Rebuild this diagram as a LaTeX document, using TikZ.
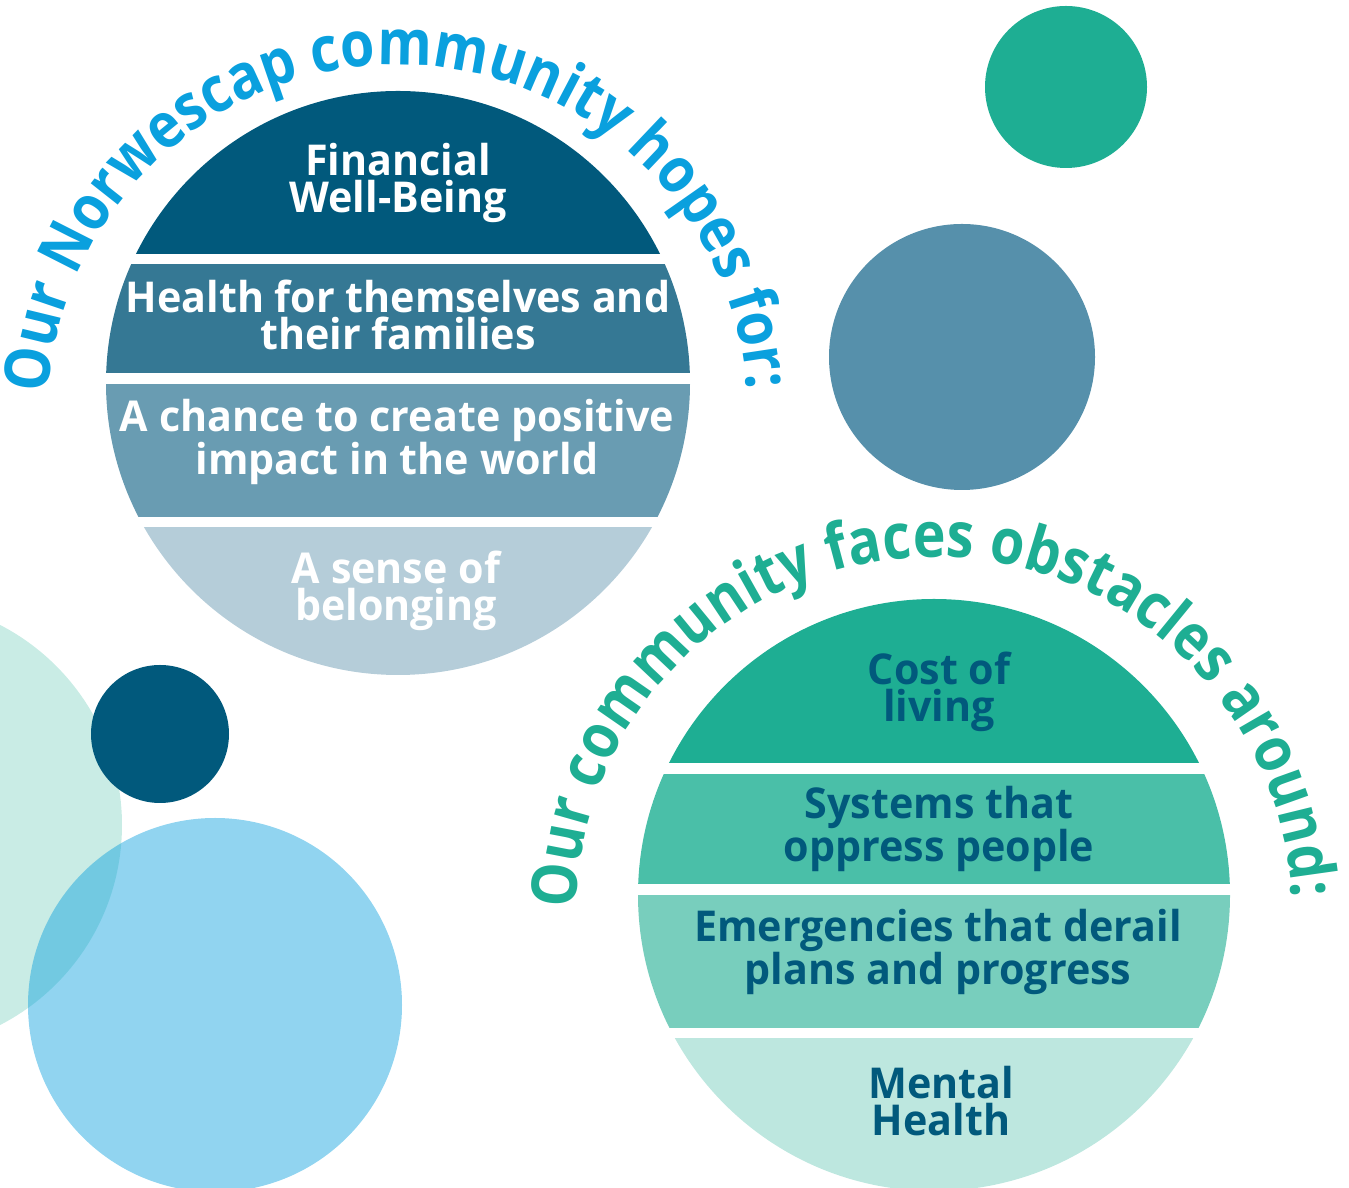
\documentclass[tikz,border=0pt]{standalone}
\usepackage{fontspec}
\setmainfont{Open Sans}[FakeStretch=0.97]
\newfontfamily\headfont{Open Sans}[FakeStretch=0.88]
\usetikzlibrary{decorations.text}
\definecolor{hopeblue}{RGB}{10,160,222}
\definecolor{teal}{RGB}{30,174,147}
\definecolor{navy}{RGB}{1,89,124}
\definecolor{Ltwo}{RGB}{53,120,148}
\definecolor{Lthree}{RGB}{105,156,178}
\definecolor{Lfour}{RGB}{181,205,217}
\definecolor{Rtwo}{RGB}{74,191,168}
\definecolor{Rthree}{RGB}{120,206,189}
\definecolor{Rfour}{RGB}{189,231,223}
\definecolor{steel}{RGB}{86,144,171}
\definecolor{mint}{RGB}{201,236,229}
\begin{document}
\begin{tikzpicture}[x=1pt,y=1pt,
  bandtext/.style={align=center, anchor=base, inner sep=0pt,
    font=\bfseries\fontsize{42.5}{37}\selectfont},
  hopetext/.style={bandtext, text=white},
  obsttext/.style={bandtext, text=navy}]
\useasboundingbox (0,0) rectangle (1349,1188);
\begin{scope}
\clip (0,0) rectangle (1349,1188);
% decorative circles
\fill[mint] (-103,363) circle[radius=225];
\fill[hopeblue, fill opacity=0.45] (215,183) circle[radius=187];
\fill[navy] (160,454) circle[radius=69];
\fill[teal] (1066,1101) circle[radius=81];
\fill[steel] (962,831) circle[radius=133];
% hopes circle
\begin{scope}
\clip (398,805) circle[radius=292];
\fill[navy] (0,934) rectangle (800,1188);
\fill[Ltwo] (0,815) rectangle (800,924);
\fill[Lthree] (0,671) rectangle (800,804);
\fill[Lfour] (0,0) rectangle (800,661);
\end{scope}
% obstacles circle
\begin{scope}
\clip (934,293) circle[radius=296];
\fill[teal] (600,425) rectangle (1300,1000);
\fill[Rtwo] (600,304) rectangle (1300,414);
\fill[Rthree] (600,160) rectangle (1300,293);
\fill[Rfour] (600,-100) rectangle (1300,150);
\end{scope}
\end{scope}
% band texts (anchor = baseline of last line)
\node[hopetext] (fin) at (398,975) {Financial\\Well-Being};
\node[hopetext] (health) at (398,838) {Health for themselves and\\their families};
\node[hopetext] (chance) at (397,713) {A chance to create positive\\impact in the world};
\node[hopetext] (belong) at (396,567) {A sense of\\belonging};
\node[obsttext] (cost) at (939,466) {Cost of\\living};
\node[obsttext] (sys) at (939,326) {Systems that\\oppress people};
\node[obsttext] (emerg) at (938,203) {Emergencies that derail\\plans and progress};
\node[obsttext] (mental) at (941,52) {Mental\\Health};
% curved headings
\coordinate (hc) at (398,773);
\coordinate (oc) at (934,273);
\path[decorate, decoration={text along path, text align=fit to path, text color=hopeblue,
  text={|\headfont\bfseries\fontsize{63}{63}\selectfont|Our Norwescap community hopes for:}}]
  ([shift={(176.5:350)}]hc) arc[start angle=176.5, end angle=4, radius=350];
\path[decorate, decoration={text along path, text align=fit to path, text color=teal,
  text={|\headfont\bfseries\fontsize{63}{63}\selectfont|Our community faces obstacles around:}}]
  ([shift={(179:358)}]oc) arc[start angle=179, end angle=3, radius=358];
\end{tikzpicture}
\end{document}
